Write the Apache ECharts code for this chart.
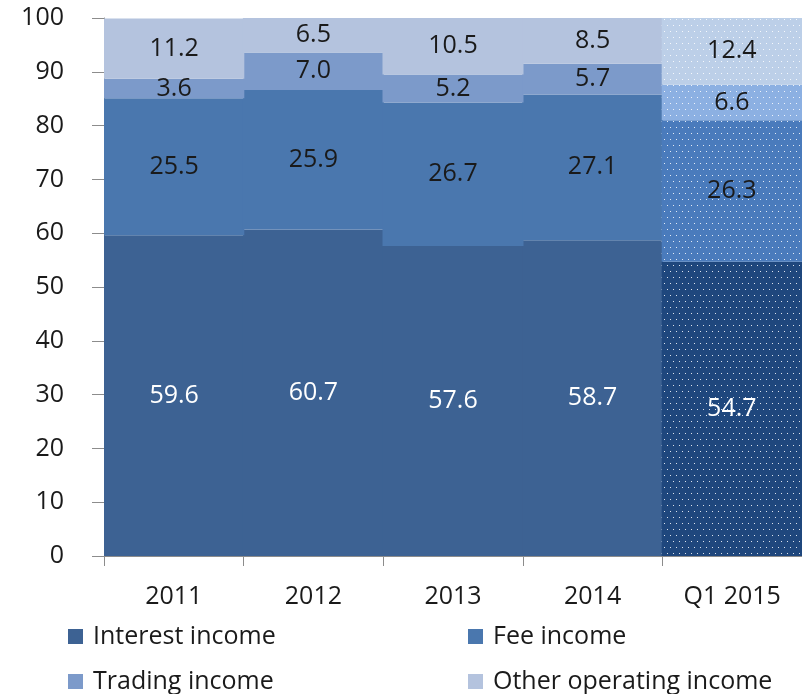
<!DOCTYPE html>
<html>
<head>
<meta charset="utf-8">
<script src="https://cdn.jsdelivr.net/npm/echarts@6/dist/echarts.min.js"></script>
<style>
  html, body { margin: 0; padding: 0; background: #fff; }
  #main { width: 802px; height: 694px; }
</style>
</head>
<body>
<div id="main"></div>
<script>
(function(){
    var categories = ['2011', '2012', '2013', '2014', 'Q1 2015'];
    var seriesNames = ['Interest income', 'Fee income', 'Trading income', 'Other operating income'];
    var interestIncome = [59.6, 60.7, 57.6, 58.7, 54.7];
    var feeIncome = [25.5, 25.9, 26.7, 27.1, 26.3];
    var tradingIncome = [3.6, 7.0, 5.2, 5.7, 6.6];
    var otherIncome = [11.2, 6.5, 10.5, 8.5, 12.4];
    var yTicks = [0, 10, 20, 30, 40, 50, 60, 70, 80, 90, 100];

    var font = '"Open Sans", sans-serif';
    var baseColors = ['#3d6293', '#4a77ae', '#7c9aca', '#b4c3de'];
    var q1Colors = ['#1f477d', '#4a7bbc', '#8cb0e2', '#bccfe8'];
    var labelColors = ['#ffffff', '#1a1a1a', '#1a1a1a', '#1a1a1a'];

    // dotted fill for the quarter bar
    function dots(base) {
        var c = document.createElement('canvas');
        c.width = 6; c.height = 12;
        var ctx = c.getContext('2d');
        ctx.fillStyle = base;
        ctx.fillRect(0, 0, 6, 12);
        ctx.fillStyle = 'rgba(255,255,255,0.85)';
        ctx.fillRect(1, 1, 1, 1);
        ctx.fillRect(4, 7, 1, 1);
        return { image: c, repeat: 'repeat' };
    }

    var myChart = echarts.init(document.getElementById('main'));

    var allData = [interestIncome, feeIncome, tradingIncome, otherIncome];
    var series = allData.map(function (vals, i) {
        return {
            name: seriesNames[i],
            type: 'bar',
            stack: 'total',
            barWidth: 141,
            barCategoryGap: '0%',
            itemStyle: { color: baseColors[i], borderWidth: 0 },
            label: {
                show: true,
                position: 'inside',
                color: labelColors[i],
                fontFamily: font,
                fontSize: 25,
                formatter: function (p) { return p.value.toFixed(1); }
            },
            data: vals.map(function (v, j) {
                if (j === categories.length - 1) {
                    return { value: v, itemStyle: { color: dots(q1Colors[i]) } };
                }
                return v;
            })
        };
    });

    var legendPos = [[68, 624], [468, 624], [68, 669], [468, 669]];
    var legends = seriesNames.map(function (n, i) {
        return {
            data: [n],
            left: legendPos[i][0],
            top: legendPos[i][1],
            icon: 'rect',
            itemWidth: 15,
            itemHeight: 15,
            itemGap: 0,
            padding: 0,
            textStyle: { fontFamily: font, fontSize: 25, color: '#1a1a1a', padding: [0, 0, 0, 5] }
        };
    });

    var option = {
        animation: false,
        grid: { left: 104, top: 18, width: 700, height: 538 },
        legend: legends,
        xAxis: {
            type: 'category',
            data: categories,
            splitLine: { show: false },
            axisLine: { lineStyle: { color: '#8c8c8c', width: 1 } },
            axisTick: { show: true, length: 10, lineStyle: { color: '#8c8c8c' } },
            axisLabel: { fontFamily: font, fontSize: 25, color: '#1a1a1a', margin: 28 }
        },
        yAxis: {
            type: 'value',
            min: yTicks[0],
            max: yTicks[yTicks.length - 1],
            interval: 10,
            axisLine: { show: true, lineStyle: { color: '#8c8c8c', width: 1 } },
            axisTick: { show: true, length: 12, lineStyle: { color: '#8c8c8c' } },
            splitLine: { show: false },
            axisLabel: { fontFamily: font, fontSize: 25, color: '#1a1a1a', margin: 40 }
        },
        series: series
    };

    myChart.setOption(option);
})()
</script>
</body>
</html>
